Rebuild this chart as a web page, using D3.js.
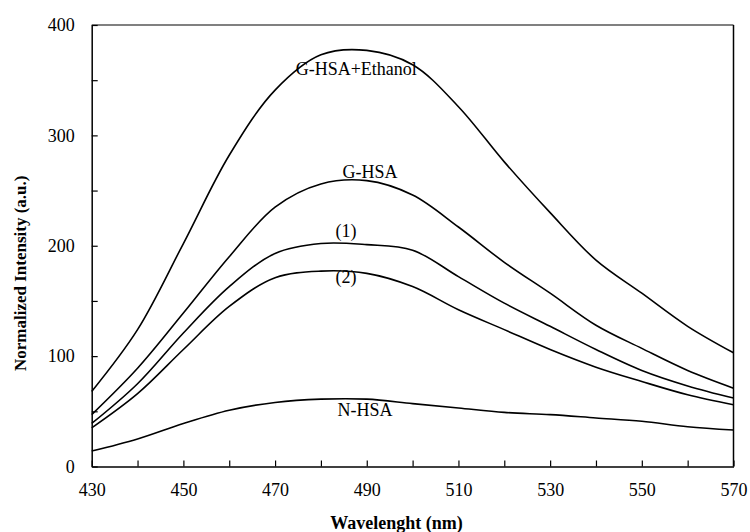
<!DOCTYPE html>
<html>
<head>
<meta charset="utf-8">
<script src="https://cdn.jsdelivr.net/npm/d3@7"></script>
<style>
    body { margin: 0; background: white; }
    svg { display: block; }
    svg text { font-family: "Liberation Serif", "DejaVu Serif", serif; }
</style>
</head>
<body>
<div id="my_dataviz"></div>
<script>
// wavelength samples (nm)
var wavelengths = [430, 440, 450, 460, 470, 480, 490, 500, 510, 520, 530, 540, 550, 560, 570];

// series values
var ethanolHSA = [68, 124, 202, 282, 341, 373, 377, 364, 326, 276, 230, 187, 157, 127, 103];
var gHSA = [47, 89, 139, 190, 235, 256, 259, 246, 217, 185, 157, 128, 107, 87, 71];
var sample1 = [39, 75, 121, 163, 193, 202, 201, 196, 172, 148, 127, 106, 87, 73, 62];
var sample2 = [35, 66, 106, 145, 171, 177, 175, 163, 142, 124, 106, 90, 77, 65, 56];
var nHSA = [14, 25, 39, 51, 58, 61, 61, 57, 53, 49, 47, 44, 41, 36, 33];

var seriesNames = ["G-HSA+Ethanol", "G-HSA", "(1)", "(2)", "N-HSA"];
// label anchor points [nm, value]
var labelAt = [[487.7, 355], [490.7, 261], [485.5, 208], [485.5, 166], [489.6, 46]];

var xTicks = [430, 450, 470, 490, 510, 530, 550, 570];
var yTicks = [0, 100, 200, 300, 400];

var margin = { top: 25, right: 16.5, bottom: 65.5, left: 91.7 };
var width = 750 - margin.left - margin.right;
var height = 532 - margin.top - margin.bottom;

var svg = d3.select("#my_dataviz")
    .append("svg")
    .attr("width", 750)
    .attr("height", 532)
    .append("g")
    .attr("transform", "translate(" + margin.left + "," + margin.top + ")");

var x = d3.scaleLinear()
    .domain([430, 570])
    .range([0, width]);

var y = d3.scaleLinear()
    .domain([0, 400])
    .range([height, 0]);

// top border (grey) and right border
svg.append("line")
    .attr("x1", 0).attr("x2", width)
    .attr("y1", 0).attr("y2", 0)
    .attr("stroke", "#808080")
    .attr("stroke-width", 2);

svg.append("line")
    .attr("x1", width).attr("x2", width)
    .attr("y1", 0).attr("y2", height)
    .attr("stroke", "black")
    .attr("stroke-width", 1.5);

// X Axis, ticks pointing in
var xAxis = svg.append("g")
    .attr("transform", "translate(0," + height + ")")
    .call(d3.axisBottom(x)
        .tickValues(d3.range(430, 571, 10))
        .tickSizeInner(-6)
        .tickSizeOuter(0)
        .tickPadding(17)
        .tickFormat(function (d) { return xTicks.indexOf(d) >= 0 ? d : ""; }));

// Y Axis
var yAxis = svg.append("g")
    .call(d3.axisLeft(y)
        .tickValues(d3.range(0, 401, 50))
        .tickSizeInner(-6)
        .tickSizeOuter(0)
        .tickPadding(17)
        .tickFormat(function (d) { return yTicks.indexOf(d) >= 0 ? d : ""; }));

[xAxis, yAxis].forEach(function (ax) {
    ax.attr("font-family", null);
    ax.select(".domain").attr("stroke", "black").attr("stroke-width", 1.5);
    ax.selectAll(".tick line").attr("stroke", "black").attr("stroke-width", 1.2);
    ax.selectAll(".tick text")
        .attr("fill", "black")
        .style("font-size", "18px");
});

// curves
var allSeries = [ethanolHSA, gHSA, sample1, sample2, nHSA];

var line = d3.line()
    .x(function (d, i) { return x(wavelengths[i]) })
    .y(function (d) { return y(d) })
    .curve(d3.curveCatmullRom.alpha(0.5));

svg.selectAll(".curve")
    .data(allSeries)
    .enter()
    .append("path")
    .attr("class", "curve")
    .attr("fill", "none")
    .attr("stroke", "black")
    .attr("stroke-width", 1.6)
    .attr("d", line);

// curve labels
svg.selectAll(".lbl")
    .data(seriesNames)
    .enter()
    .append("text")
    .attr("class", "lbl")
    .attr("x", function (d, i) { return x(labelAt[i][0]) })
    .attr("y", function (d, i) { return y(labelAt[i][1]) })
    .attr("text-anchor", "middle")
    .style("font-size", "18px")
    .text(function (d) { return d });

// axis titles
svg.append("text")
    .attr("x", x(496.5))
    .attr("y", height + 62)
    .attr("text-anchor", "middle")
    .style("font-size", "18px")
    .style("font-weight", "bold")
    .text("Wavelenght (nm)");

svg.append("text")
    .attr("transform", "translate(" + (-66) + "," + (y(175)) + ") rotate(-90)")
    .attr("text-anchor", "middle")
    .style("font-size", "17px")
    .style("font-weight", "bold")
    .text("Normalized Intensity (a.u.)");
</script>
</body>
</html>
